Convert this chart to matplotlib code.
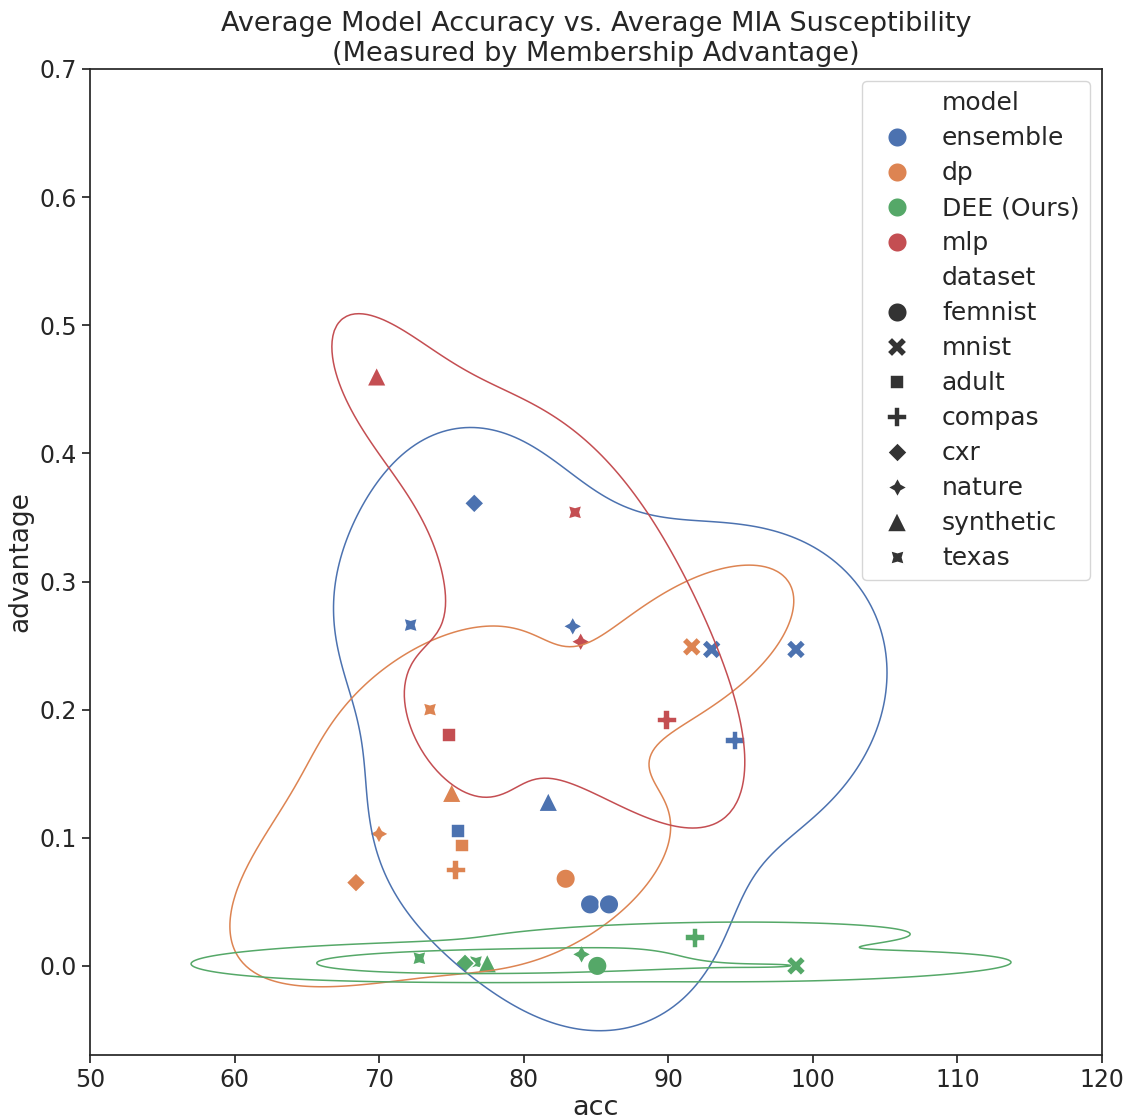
import matplotlib
matplotlib.use("Agg")
import matplotlib.pyplot as plt
import numpy as np
import pandas as pd
import seaborn as sns

# Average accuracy / membership advantage per model and dataset
models = (["ensemble"] * 10 + ["dp"] * 8 + ["DEE (Ours)"] * 8 + ["mlp"] * 5)
datasets = (
    ["femnist", "femnist", "mnist", "mnist", "adult", "compas", "cxr", "nature", "synthetic", "texas"]
    + ["femnist", "mnist", "adult", "compas", "cxr", "nature", "synthetic", "texas"]
    + ["femnist", "mnist", "texas", "compas", "cxr", "nature", "synthetic", "texas"]
    + ["adult", "compas", "nature", "synthetic", "texas"]
)
acc = (
    [84.59, 85.9, 93.0, 98.83, 75.48, 94.61, 76.58, 83.39, 81.7, 72.18]
    + [82.9, 91.62, 75.71, 75.3, 68.4, 69.99, 75.02, 73.52]
    + [85.09, 98.83, 76.7, 91.85, 75.94, 84.0, 77.48, 72.78]
    + [74.85, 89.89, 83.94, 69.83, 83.55]
)
advantage = (
    [0.048, 0.048, 0.247, 0.247, 0.105, 0.176, 0.361, 0.265, 0.128, 0.266]
    + [0.068, 0.249, 0.094, 0.075, 0.065, 0.103, 0.135, 0.200]
    + [0.000, 0.000, 0.003, 0.022, 0.002, 0.009, 0.002, 0.006]
    + [0.180, 0.192, 0.253, 0.460, 0.354]
)

hue_order = ["ensemble", "dp", "DEE (Ours)", "mlp"]
style_order = ["femnist", "mnist", "adult", "compas", "cxr", "nature", "synthetic", "texas"]

df = pd.DataFrame({"model": models, "dataset": datasets, "acc": acc, "advantage": advantage})

sns.set_theme(style="ticks", font_scale=1.5)
plt.rcParams["font.family"] = ["DejaVu Sans"]

fig, ax = plt.subplots(figsize=(11.36, 11.18), dpi=100)
fig.subplots_adjust(left=0.0792, right=0.9701, top=0.9383, bottom=0.0564)

sns.scatterplot(data=df, x="acc", y="advantage", hue="model", style="dataset",
                hue_order=hue_order, style_order=style_order, s=200, ax=ax)
sns.kdeplot(data=df, x="acc", y="advantage", hue="model", hue_order=hue_order,
            levels=3, linewidths=1.1, ax=ax, legend=False)

ax.set_xlim(50, 120)
ax.set_ylim(-0.0695, 0.7)
ax.set_title("Average Model Accuracy vs. Average MIA Susceptibility\n(Measured by Membership Advantage)",
             fontsize=19.5, pad=6)
ax.set_xlabel("acc", fontsize=19.5, labelpad=2)
ax.set_ylabel("advantage", fontsize=19)
ax.tick_params(labelsize=17)
ax.legend(loc="upper right", fontsize=18, borderaxespad=0.5, labelspacing=0.44)

fig.savefig("out.png", dpi=100)
